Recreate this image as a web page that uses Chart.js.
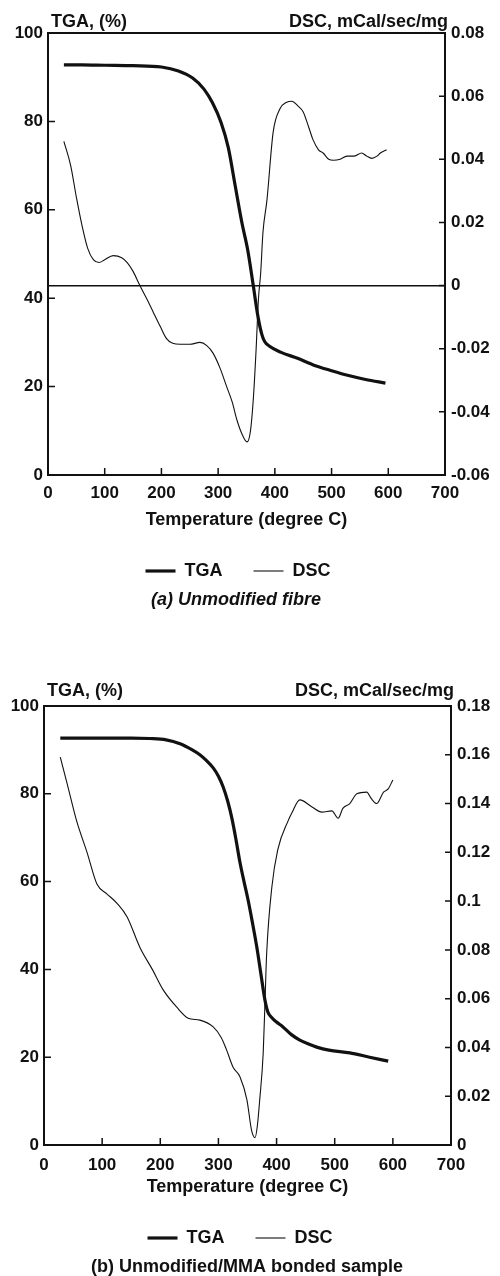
<!DOCTYPE html>
<html>
<head>
<meta charset="utf-8">
<script src="https://cdn.jsdelivr.net/npm/chart.js@4.4.0/dist/chart.umd.min.js"></script>
<style>
  body { margin: 0; background: #fff; }
  .box { position: absolute; left: 0; width: 500px; }
  #boxA { top: 0; height: 620px; }
  #boxB { top: 640px; height: 636px; }
</style>
</head>
<body>
<div class="box" id="boxA"><canvas id="chartA"></canvas></div>
<div class="box" id="boxB"><canvas id="chartB"></canvas></div>
<script>
// axis ticks
const tempTicks = [0, 100, 200, 300, 400, 500, 600, 700];
const tempLabels = ['0', '100', '200', '300', '400', '500', '600', '700'];
const tgaTicks = [0, 20, 40, 60, 80, 100];
const tgaLabels = ['0', '20', '40', '60', '80', '100'];
const dscTicksA = [-0.06, -0.04, -0.02, 0, 0.02, 0.04, 0.06, 0.08];
const dscLabelsA = ['-0.06', '-0.04', '-0.02', '0', '0.02', '0.04', '0.06', '0.08'];
const dscTicksB = [0, 0.02, 0.04, 0.06, 0.08, 0.1, 0.12, 0.14, 0.16, 0.18];
const dscLabelsB = ['0', '0.02', '0.04', '0.06', '0.08', '0.1', '0.12', '0.14', '0.16', '0.18'];

// (a) unmodified fibre
const tgaTempA = [28, 60, 100, 150, 200, 230, 255, 275, 290, 305, 318, 330, 342, 352, 362, 370, 377, 382, 390, 410, 440, 470, 500, 530, 560, 595];
const tgaA = [92.8, 92.8, 92.7, 92.6, 92.3, 91.4, 89.8, 87.3, 84.2, 79.8, 74.0, 65.5, 57.0, 51.0, 42.8, 36.0, 31.8, 30.2, 29.2, 27.8, 26.4, 24.8, 23.6, 22.5, 21.6, 20.8];
const dscTempA = [28, 40, 50, 60, 70, 80, 90, 100, 115, 130, 140, 150, 162, 175, 186, 198, 209, 220, 233, 250, 268, 280, 291, 303, 315, 325, 333, 342, 351, 357, 362, 367, 371, 375, 379, 386, 397, 409, 420, 430, 440, 450, 460, 467, 477, 485, 495, 503, 515, 527, 540, 553, 562, 571, 580, 586, 597];
const dscA = [0.0457, 0.038, 0.028, 0.019, 0.0118, 0.0082, 0.0073, 0.0082, 0.0095, 0.0088, 0.0072, 0.0045, 0.0, -0.0045, -0.0086, -0.013, -0.0168, -0.0183, -0.0186, -0.0186, -0.018, -0.019, -0.0214, -0.026, -0.032, -0.037, -0.0425, -0.047, -0.0495, -0.046, -0.036, -0.02, -0.0044, 0.004, 0.0168, 0.027, 0.0486, 0.056, 0.058, 0.0584, 0.057, 0.055, 0.05, 0.0463, 0.043, 0.042, 0.04, 0.0397, 0.04, 0.041, 0.041, 0.042, 0.041, 0.0403, 0.041, 0.042, 0.043];

// (b) unmodified/MMA bonded sample
const tgaTempB = [28, 60, 100, 150, 182, 210, 234, 255, 268, 280, 291, 300, 308, 316, 323, 330, 337, 344, 351, 358, 366, 373, 380, 385, 392, 400, 411, 425, 440, 455, 469, 490, 526, 560, 592];
const tgaB = [92.7, 92.7, 92.7, 92.7, 92.6, 92.3, 91.4, 90.0, 88.9, 87.5, 85.9, 84.0, 81.6, 78.3, 74.5, 69.7, 64.4, 60.0, 55.8, 51.0, 45.1, 39.0, 33.0, 30.3, 29.0, 28.0, 26.9, 25.2, 23.9, 23.0, 22.3, 21.6, 21.0, 20.0, 19.1];
const dscTempB = [28, 40, 56, 74, 91, 108, 126, 143, 165, 187, 205, 228, 248, 268, 291, 305, 314, 325, 337, 349, 357, 363, 367, 371, 377, 380, 383, 392, 402, 420, 426, 440, 461, 478, 495, 506, 514, 526, 538, 555, 563, 572, 584, 592, 600];
const dscB = [0.159, 0.148, 0.133, 0.12, 0.107, 0.103, 0.099, 0.0935, 0.081, 0.0717, 0.0636, 0.0566, 0.052, 0.0512, 0.0484, 0.044, 0.039, 0.032, 0.028, 0.0185, 0.006, 0.003, 0.008, 0.0185, 0.0377, 0.058, 0.0787, 0.106, 0.121, 0.133, 0.136, 0.1415, 0.1386, 0.1365, 0.137, 0.134, 0.138, 0.14, 0.144, 0.1447, 0.142, 0.14, 0.1447, 0.146, 0.1497];

const INK = '#111';
Chart.defaults.font.family = '"Liberation Sans", Arial, sans-serif';
Chart.defaults.font.weight = 'bold';
Chart.defaults.color = INK;

const toPoints = (xs, ys) => xs.map((x, i) => ({ x: x, y: ys[i] }));

// inward tick marks + the two corner axis captions
const frameTicks = {
  id: 'frameTicks',
  afterLayout(chart, args, opts) {
    // nudge legend / caption sideways like in the printed figure
    chart.legend.left += opts.legendDx;
    chart.legend.right += opts.legendDx;
    chart.titleBlock.left += opts.captionDx;
    chart.titleBlock.right += opts.captionDx;
  },
  afterDraw(chart, args, opts) {
    const { ctx, chartArea: a, scales } = chart;
    ctx.save();
    ctx.strokeStyle = INK;
    ctx.lineWidth = 1.5;
    ctx.beginPath();
    scales.x.ticks.forEach(t => {
      const px = scales.x.getPixelForValue(t.value);
      ctx.moveTo(px, a.bottom);
      ctx.lineTo(px, a.bottom - 7);
    });
    scales.y.ticks.forEach(t => {
      const py = scales.y.getPixelForValue(t.value);
      ctx.moveTo(a.left, py);
      ctx.lineTo(a.left + 7, py);
    });
    scales.y1.ticks.forEach(t => {
      const py = scales.y1.getPixelForValue(t.value);
      ctx.moveTo(a.right, py);
      ctx.lineTo(a.right - 6, py);
    });
    ctx.stroke();

    ctx.fillStyle = INK;
    ctx.font = 'bold 18px "Liberation Sans", Arial, sans-serif';
    ctx.textBaseline = 'middle';
    ctx.textAlign = 'left';
    ctx.fillText('TGA, (%)', a.left + 3, opts.titleY);
    ctx.textAlign = 'right';
    ctx.fillText('DSC, mCal/sec/mg', a.right + 3, opts.titleY);
    ctx.restore();
  }
};

function makeChart(id, s) {
  return new Chart(document.getElementById(id), {
    type: 'line',
    data: {
      datasets: [
        {
          label: 'TGA',
          data: toPoints(s.tgaTemp, s.tga),
          yAxisID: 'y',
          borderColor: INK,
          borderWidth: 3.2,
          pointRadius: 0,
          pointStyle: 'line',
          pointBorderColor: INK,
          pointBorderWidth: 3.2,
          cubicInterpolationMode: 'monotone'
        },
        {
          label: 'DSC',
          data: toPoints(s.dscTemp, s.dsc),
          yAxisID: 'y1',
          borderColor: INK,
          borderWidth: 1.1,
          pointRadius: 0,
          pointStyle: 'line',
          pointBorderColor: INK,
          pointBorderWidth: 1.1,
          cubicInterpolationMode: 'monotone'
        }
      ]
    },
    options: {
      responsive: true,
      maintainAspectRatio: false,
      animation: false,
      layout: { padding: { top: s.top, right: 0, left: 0, bottom: 0 } },
      scales: {
        x: {
          type: 'linear',
          min: 0,
          max: 700,
          afterBuildTicks: ax => { ax.ticks = tempTicks.map(v => ({ value: v })); },
          afterFit: ax => { ax.height = s.xHeight; },
          ticks: {
            padding: s.xPad,
            maxRotation: 0,
            font: { size: 17 },
            callback: (v, i) => tempLabels[i]
          },
          grid: { color: 'transparent', drawTicks: false },
          border: { color: INK, width: 2 },
          title: {
            display: true,
            text: 'Temperature (degree C)',
            font: { size: 18 },
            padding: 0
          }
        },
        y: {
          position: 'left',
          min: 0,
          max: 100,
          afterBuildTicks: ax => { ax.ticks = tgaTicks.map(v => ({ value: v })); },
          afterFit: ax => { ax.width = s.leftW; },
          ticks: { padding: 5, font: { size: 17 }, callback: (v, i) => tgaLabels[i] },
          grid: {
            drawTicks: false,
            lineWidth: 2,
            color: c => (c.tick && c.tick.value === 100 ? INK : 'transparent')
          },
          border: { color: INK, width: 2 }
        },
        y1: {
          position: 'right',
          min: s.dscTicks[0],
          max: s.dscTicks[s.dscTicks.length - 1],
          afterBuildTicks: ax => { ax.ticks = s.dscTicks.map(v => ({ value: v })); },
          afterFit: ax => { ax.width = s.rightW; },
          ticks: { padding: 6, font: { size: 17 }, callback: (v, i) => s.dscLabels[i] },
          grid: {
            drawTicks: false,
            lineWidth: 1.5,
            color: c => (s.zeroLine && c.tick && Math.abs(c.tick.value) < 1e-9 ? INK : 'transparent')
          },
          border: { color: INK, width: 2 }
        }
      },
      plugins: {
        tooltip: { enabled: false },
        legend: {
          position: 'bottom',
          labels: {
            usePointStyle: true,
            pointStyleWidth: 30,
            padding: 31,
            color: INK,
            font: { size: 18 }
          }
        },
        title: {
          display: true,
          position: 'bottom',
          text: s.caption,
          color: INK,
          font: { size: 18, style: s.captionStyle, lineHeight: 1 },
          padding: s.captionPad
        },
        frameTicks: { titleY: s.titleY, legendDx: s.legendDx, captionDx: s.captionDx }
      }
    },
    plugins: [frameTicks]
  });
}

makeChart('chartA', {
  tgaTemp: tgaTempA, tga: tgaA, dscTemp: dscTempA, dsc: dscA,
  dscTicks: dscTicksA, dscLabels: dscLabelsA, zeroLine: true,
  top: 33, leftW: 48, rightW: 55,
  xHeight: 56, xPad: 8, titleY: 22,
  legendDx: -12, captionDx: -14,
  caption: '(a) Unmodified fibre', captionStyle: 'italic',
  captionPad: { top: 1, bottom: 11 }
});

makeChart('chartB', {
  tgaTemp: tgaTempB, tga: tgaB, dscTemp: dscTempB, dsc: dscB,
  dscTicks: dscTicksB, dscLabels: dscLabelsB, zeroLine: false,
  top: 66, leftW: 44, rightW: 49,
  xHeight: 53, xPad: 10, titleY: 51,
  legendDx: -10, captionDx: -3,
  caption: '(b) Unmodified/MMA bonded sample', captionStyle: 'normal',
  captionPad: { top: 1, bottom: 0 }
});
</script>
</body>
</html>
